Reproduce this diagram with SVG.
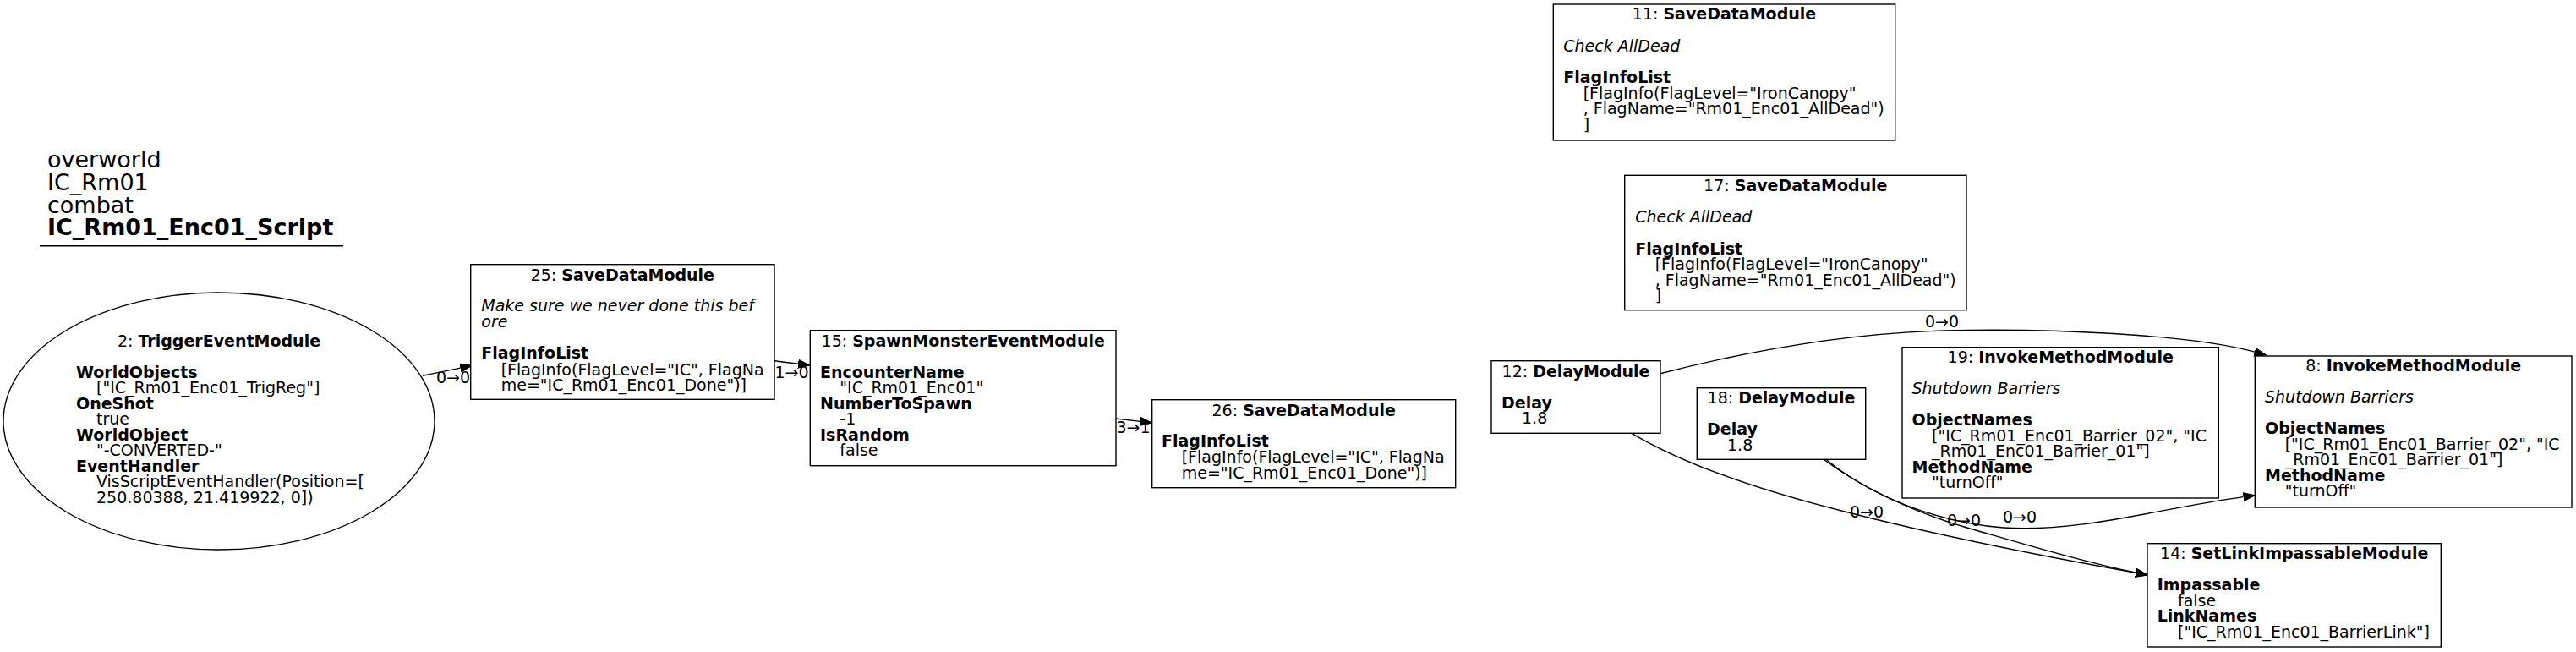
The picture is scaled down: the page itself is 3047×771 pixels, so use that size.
<svg xmlns="http://www.w3.org/2000/svg" width="3047" height="771" viewBox="0 0 3047 771">
<style>
text{font-family:"DejaVu Sans","Liberation Sans",sans-serif;font-size:19px;fill:#000}
.t{font-size:27px}
.b{font-weight:bold}
.i{font-style:italic}
.c{text-anchor:middle}
.box{fill:#fff;stroke:#000;stroke-width:1.4}
.e{fill:none;stroke:#000;stroke-width:1.4}
</style>
<defs>
<marker id="ah" markerUnits="userSpaceOnUse" markerWidth="15" markerHeight="11" viewBox="0 -5.5 15 11" refX="0" refY="0" orient="auto">
<path d="M0,-5 L14,0 L0,5 z" fill="#000" stroke="#000" stroke-width="1"/>
</marker>
</defs>
<rect x="0" y="0" width="3047" height="771" fill="#fff"/>
<g id="title">
<text class="t" x="56" y="198.3">overworld</text>
<text class="t" x="56" y="225">IC_Rm01</text>
<text class="t" x="56" y="251.7">combat</text>
<text class="t b" x="56" y="278.3">IC_Rm01_Enc01_Script</text>
<line x1="47" y1="290.7" x2="406" y2="290.7" stroke="#000" stroke-width="1.4"/>
</g>
<g id="connectors">
<path class="e" d="M500,444.3 L544.6,435.1" marker-end="url(#ah)"/>
<text class="c" x="536" y="453">0→0</text>
<path class="e" d="M916,426.7 L944.1,430.3" marker-end="url(#ah)"/>
<text class="c" x="936.5" y="446.7">1→0</text>
<path class="e" d="M1320,495 L1348.8,498.4" marker-end="url(#ah)"/>
<text class="c" x="1340.5" y="511.7">3→1</text>
<path class="e" d="M1964,441.7 C2080,412 2190,394 2300,391 C2420,388 2590,395 2666.9,416.2" marker-end="url(#ah)"/>
<text class="c" x="2297" y="387">0→0</text>
<path class="e" d="M1930,512.3 C1990,548 2080,580 2190,607 C2320,640 2440,662 2526.3,677.3" marker-end="url(#ah)"/>
<text class="c" x="2208" y="612">0→0</text>
<path class="e" d="M2157,543.3 C2200,575 2260,605 2330,625 C2400,645 2460,663 2526.3,677.3" marker-end="url(#ah)"/>
<text class="c" x="2323" y="622">0→0</text>
<path class="e" d="M2160,543.3 C2210,585 2290,618 2370,624 C2460,630 2560,600 2653.6,587.6" marker-end="url(#ah)"/>
<text class="c" x="2389" y="618">0→0</text>
</g>
<g id="node2">
<ellipse class="box" cx="259" cy="498" rx="255" ry="152"/>
<text class="c" x="259" y="410">2: <tspan class="b">TriggerEventModule</tspan></text>
<text class="b" x="90" y="446.7">WorldObjects</text>
<text x="114" y="465.2">["IC_Rm01_Enc01_TrigReg"]</text>
<text class="b" x="90" y="483.7">OneShot</text>
<text x="114" y="502.2">true</text>
<text class="b" x="90" y="520.7">WorldObject</text>
<text x="114" y="539.2">"-CONVERTED-"</text>
<text class="b" x="90" y="557.7">EventHandler</text>
<text x="114" y="576.2">VisScriptEventHandler(Position=[</text>
<text x="114" y="594.7">250.80388, 21.419922, 0])</text>
</g>
<g id="node25">
<rect class="box" x="556.7" y="312.7" width="359.3" height="159.6"/>
<text class="c" x="736.3" y="331.7">25: <tspan class="b">SaveDataModule</tspan></text>
<text class="i" x="569.3" y="368.3">Make sure we never done this bef</text>
<text class="i" x="569.3" y="387">ore</text>
<text class="b" x="569.3" y="424">FlagInfoList</text>
<text x="592.7" y="443.5">[FlagInfo(FlagLevel="IC", FlagNa</text>
<text x="592.7" y="462">me="IC_Rm01_Enc01_Done")]</text>
</g>
<g id="node15">
<rect class="box" x="958.3" y="390.7" width="361.7" height="160"/>
<text class="c" x="1139.2" y="410">15: <tspan class="b">SpawnMonsterEventModule</tspan></text>
<text class="b" x="970" y="446.7">EncounterName</text>
<text x="993.3" y="465.2">"IC_Rm01_Enc01"</text>
<text class="b" x="970" y="483.7">NumberToSpawn</text>
<text x="993.3" y="502.2">-1</text>
<text class="b" x="970" y="520.7">IsRandom</text>
<text x="993.3" y="539.2">false</text>
</g>
<g id="node26">
<rect class="box" x="1362.7" y="472.7" width="359" height="104"/>
<text class="c" x="1542.2" y="491.7">26: <tspan class="b">SaveDataModule</tspan></text>
<text class="b" x="1374" y="528.3">FlagInfoList</text>
<text x="1397.7" y="547">[FlagInfo(FlagLevel="IC", FlagNa</text>
<text x="1397.7" y="565.5">me="IC_Rm01_Enc01_Done")]</text>
</g>
<g id="node11">
<rect class="box" x="1837.3" y="5" width="404.4" height="161"/>
<text class="c" x="2039.5" y="23.3">11: <tspan class="b">SaveDataModule</tspan></text>
<text class="i" x="1849.3" y="61">Check AllDead</text>
<text class="b" x="1849.3" y="98.3">FlagInfoList</text>
<text x="1872.7" y="116.8">[FlagInfo(FlagLevel="IronCanopy"</text>
<text x="1872.7" y="135.3">, FlagName="Rm01_Enc01_AllDead")</text>
<text x="1872.7" y="153.8">]</text>
</g>
<g id="node17">
<rect class="box" x="1921.7" y="207.3" width="404.3" height="159.4"/>
<text class="c" x="2123.8" y="226">17: <tspan class="b">SaveDataModule</tspan></text>
<text class="i" x="1934.3" y="263.3">Check AllDead</text>
<text class="b" x="1934.3" y="300.5">FlagInfoList</text>
<text x="1957.7" y="319">[FlagInfo(FlagLevel="IronCanopy"</text>
<text x="1957.7" y="337.5">, FlagName="Rm01_Enc01_AllDead")</text>
<text x="1957.7" y="356">]</text>
</g>
<g id="node12">
<rect class="box" x="1764" y="426.7" width="200" height="85.6"/>
<text class="c" x="1864" y="445.7">12: <tspan class="b">DelayModule</tspan></text>
<text class="b" x="1776" y="482.7">Delay</text>
<text x="1800" y="501.2">1.8</text>
</g>
<g id="node18">
<rect class="box" x="2007.3" y="458.7" width="199.4" height="84.6"/>
<text class="c" x="2107" y="477.3">18: <tspan class="b">DelayModule</tspan></text>
<text class="b" x="2019" y="514.3">Delay</text>
<text x="2043" y="532.8">1.8</text>
</g>
<g id="node19">
<rect class="box" x="2250" y="410.7" width="374.3" height="178.3"/>
<text class="c" x="2437.2" y="429.3">19: <tspan class="b">InvokeMethodModule</tspan></text>
<text class="i" x="2261.5" y="466">Shutdown Barriers</text>
<text class="b" x="2261.5" y="503.3">ObjectNames</text>
<text x="2285" y="521.8">["IC_Rm01_Enc01_Barrier_02", "IC</text>
<text x="2285" y="540.3">_Rm01_Enc01_Barrier_01"]</text>
<text class="b" x="2261.5" y="558.8">MethodName</text>
<text x="2285" y="577.3">"turnOff"</text>
</g>
<g id="node8">
<rect class="box" x="2667.3" y="421" width="374.7" height="179"/>
<text class="c" x="2854.7" y="439">8: <tspan class="b">InvokeMethodModule</tspan></text>
<text class="i" x="2679" y="476">Shutdown Barriers</text>
<text class="b" x="2679" y="513.3">ObjectNames</text>
<text x="2702.7" y="531.8">["IC_Rm01_Enc01_Barrier_02", "IC</text>
<text x="2702.7" y="550.3">_Rm01_Enc01_Barrier_01"]</text>
<text class="b" x="2679" y="568.8">MethodName</text>
<text x="2702.7" y="587.3">"turnOff"</text>
</g>
<g id="node14">
<rect class="box" x="2540" y="642.7" width="347.3" height="122.3"/>
<text class="c" x="2713.7" y="660.7">14: <tspan class="b">SetLinkImpassableModule</tspan></text>
<text class="b" x="2551.7" y="698.3">Impassable</text>
<text x="2576" y="716.8">false</text>
<text class="b" x="2551.7" y="735.3">LinkNames</text>
<text x="2576" y="753.8">["IC_Rm01_Enc01_BarrierLink"]</text>
</g>
</svg>
